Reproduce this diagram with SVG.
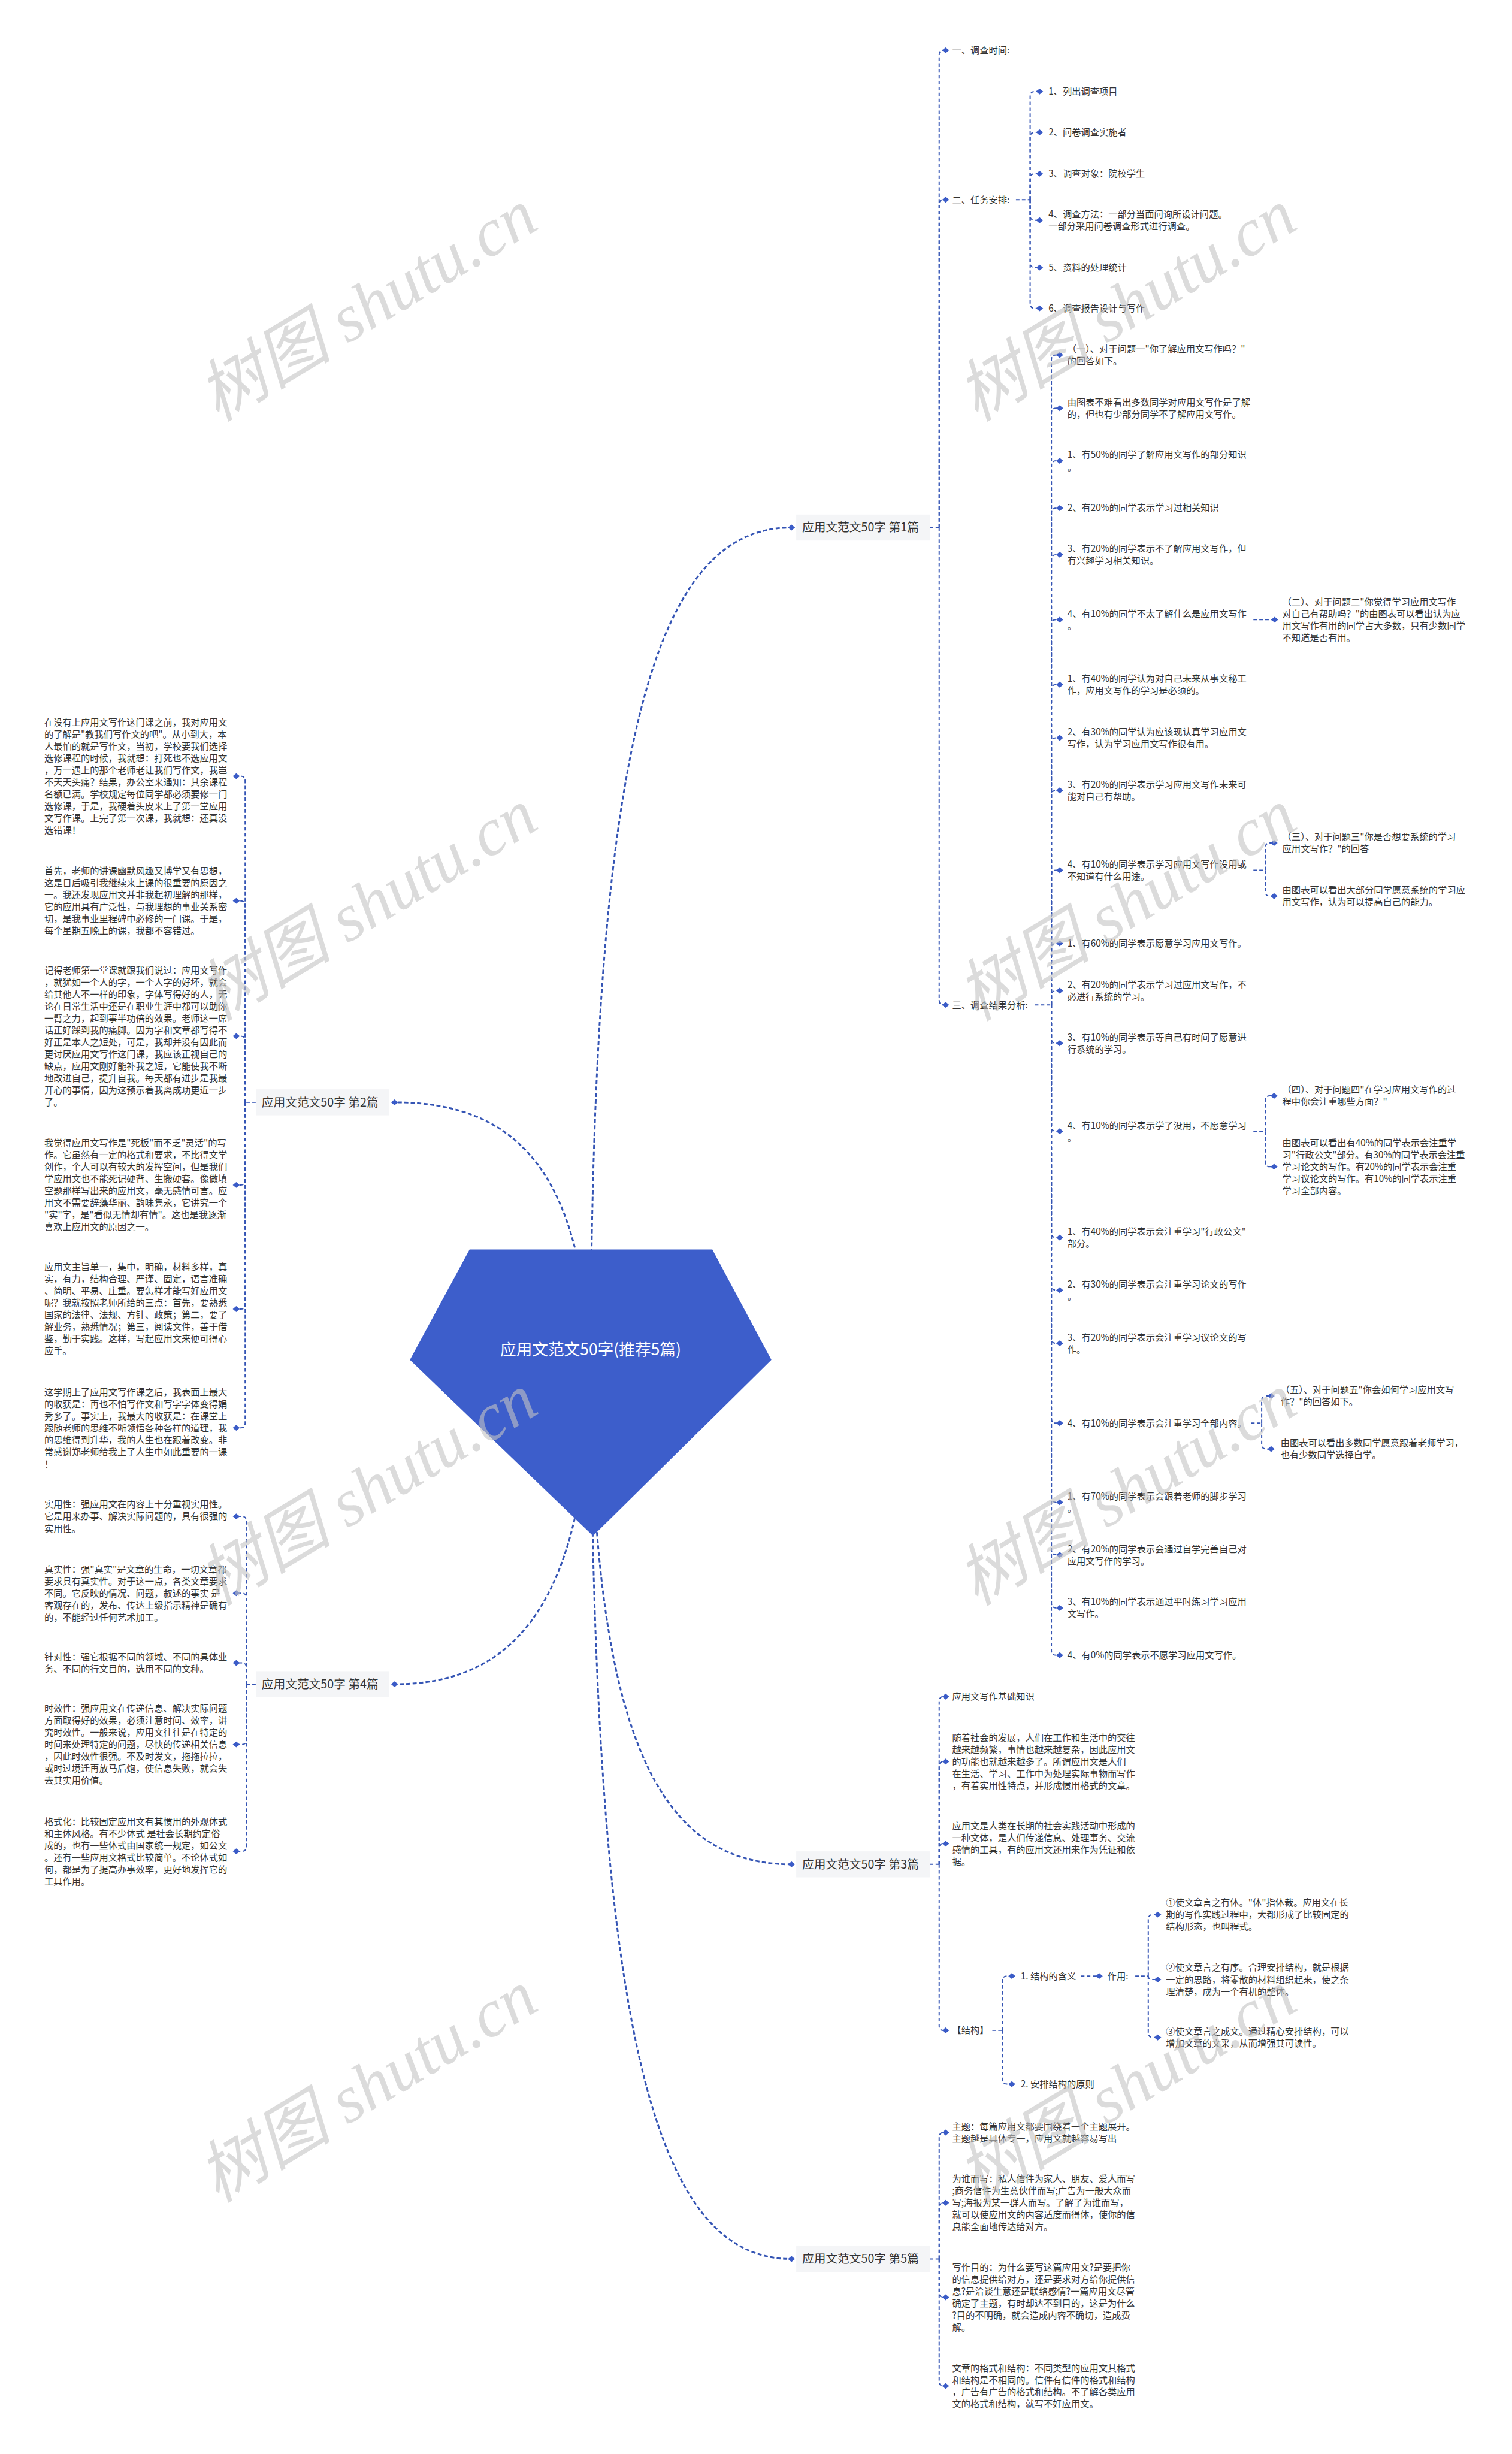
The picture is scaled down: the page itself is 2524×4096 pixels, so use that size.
<svg xmlns="http://www.w3.org/2000/svg" width="2524" height="4096" viewBox="0 0 2524 4096">
<style>
.t{font-family:"Noto Sans CJK SC","Liberation Sans",sans-serif;font-size:15.5px;fill:#333}
.lab{font-family:"Noto Sans CJK SC","Liberation Sans",sans-serif;font-size:20px;fill:#333}
.c{fill:none;stroke:#3454b4;stroke-width:2;stroke-dasharray:6 4}
.cm{fill:none;stroke:#3454b4;stroke-width:3;stroke-dasharray:7 4}
.box{fill:#f4f5f7}
.wm{font-family:"Liberation Serif","Noto Sans CJK SC",serif;font-style:italic;font-size:114px;fill:#c4c4c4;opacity:.6}
</style>
<defs>
<marker id="dm" viewBox="-7 -7 14 14" markerWidth="14" markerHeight="14" refX="0" refY="0" markerUnits="userSpaceOnUse" orient="auto">
<path d="M-6 0L0-5L6 0L0 5Z" fill="#3a5bc7"/>
</marker>
</defs>
<rect width="2524" height="4096" fill="#fff"/>
<g transform="scale(0.986)">
<g id="connectors">
<path class="cm" marker-end="url(#dm)" d="M1000 2330C1000 1250 1110 893 1340 893"/>
<path class="cm" marker-end="url(#dm)" d="M1000 2330C1005 2950 1120 3156 1340 3156"/>
<path class="cm" marker-end="url(#dm)" d="M1000 2330C1005 3450 1110 3824 1340 3824"/>
<path class="cm" marker-end="url(#dm)" d="M1000 2330C990 1990 880 1866 668 1866"/>
<path class="cm" marker-end="url(#dm)" d="M1000 2330C990 2700 880 2851 668 2851"/>
<g class="c-p1">
<path class="c" d="M1574 893H1590"/>
<path class="c" marker-end="url(#dm)" d="M1590 893V93Q1590 85 1597 85H1601"/>
<path class="c" marker-end="url(#dm)" d="M1590 893V346Q1590 338 1597 338H1601"/>
<path class="c" marker-end="url(#dm)" d="M1590 893V1693Q1590 1701 1597 1701H1601"/>
<path class="c" d="M1720 338H1744"/>
<path class="c" marker-end="url(#dm)" d="M1744 338V163Q1744 155 1752 155H1760"/>
<path class="c" marker-end="url(#dm)" d="M1744 338V232Q1744 224 1752 224H1760"/>
<path class="c" marker-end="url(#dm)" d="M1744 338V302Q1744 294 1752 294H1760"/>
<path class="c" marker-end="url(#dm)" d="M1744 338V365Q1744 373 1752 373H1760"/>
<path class="c" marker-end="url(#dm)" d="M1744 338V445Q1744 453 1752 453H1760"/>
<path class="c" marker-end="url(#dm)" d="M1744 338V514Q1744 522 1752 522H1760"/>
<path class="c" d="M1752 1701H1780"/>
<path class="c" marker-end="url(#dm)" d="M1780 1701V609Q1780 601 1788 601H1794"/>
<path class="c" marker-end="url(#dm)" d="M1780 1701V699Q1780 691 1788 691H1794"/>
<path class="c" marker-end="url(#dm)" d="M1780 1701V788Q1780 780 1788 780H1794"/>
<path class="c" marker-end="url(#dm)" d="M1780 1701V868Q1780 860 1788 860H1794"/>
<path class="c" marker-end="url(#dm)" d="M1780 1701V947Q1780 939 1788 939H1794"/>
<path class="c" marker-end="url(#dm)" d="M1780 1701V1057Q1780 1049 1788 1049H1794"/>
<path class="c" marker-end="url(#dm)" d="M1780 1701V1167Q1780 1159 1788 1159H1794"/>
<path class="c" marker-end="url(#dm)" d="M1780 1701V1257Q1780 1249 1788 1249H1794"/>
<path class="c" marker-end="url(#dm)" d="M1780 1701V1346Q1780 1338 1788 1338H1794"/>
<path class="c" marker-end="url(#dm)" d="M1780 1701V1481Q1780 1473 1788 1473H1794"/>
<path class="c" marker-end="url(#dm)" d="M1780 1701V1605Q1780 1597 1788 1597H1794"/>
<path class="c" marker-end="url(#dm)" d="M1780 1701V1685Q1780 1677 1788 1677H1794"/>
<path class="c" marker-end="url(#dm)" d="M1780 1701V1758Q1780 1766 1788 1766H1794"/>
<path class="c" marker-end="url(#dm)" d="M1780 1701V1907Q1780 1915 1788 1915H1794"/>
<path class="c" marker-end="url(#dm)" d="M1780 1701V2087Q1780 2095 1788 2095H1794"/>
<path class="c" marker-end="url(#dm)" d="M1780 1701V2176Q1780 2184 1788 2184H1794"/>
<path class="c" marker-end="url(#dm)" d="M1780 1701V2266Q1780 2274 1788 2274H1794"/>
<path class="c" marker-end="url(#dm)" d="M1780 1701V2401Q1780 2409 1788 2409H1794"/>
<path class="c" marker-end="url(#dm)" d="M1780 1701V2535Q1780 2543 1788 2543H1794"/>
<path class="c" marker-end="url(#dm)" d="M1780 1701V2624Q1780 2632 1788 2632H1794"/>
<path class="c" marker-end="url(#dm)" d="M1780 1701V2714Q1780 2722 1788 2722H1794"/>
<path class="c" marker-end="url(#dm)" d="M1780 1701V2794Q1780 2802 1788 2802H1794"/>
<path class="c" marker-end="url(#dm)" d="M2122 1049H2158"/>
<path class="c" d="M2122 1473H2142"/>
<path class="c" marker-end="url(#dm)" d="M2142 1473V1435Q2142 1427 2150 1427H2157"/>
<path class="c" marker-end="url(#dm)" d="M2142 1473V1509Q2142 1517 2150 1517H2157"/>
<path class="c" d="M2122 1915H2142"/>
<path class="c" marker-end="url(#dm)" d="M2142 1915V1863Q2142 1855 2150 1855H2157"/>
<path class="c" marker-end="url(#dm)" d="M2142 1915V1967Q2142 1975 2150 1975H2157"/>
<path class="c" d="M2118 2409H2136"/>
<path class="c" marker-end="url(#dm)" d="M2136 2409V2371Q2136 2363 2144 2363H2152"/>
<path class="c" marker-end="url(#dm)" d="M2136 2409V2445Q2136 2453 2144 2453H2152"/>
</g>
<g class="c-p3">
<path class="c" d="M1574 3156H1590"/>
<path class="c" marker-end="url(#dm)" d="M1590 3156V2880Q1590 2872 1597 2872H1601"/>
<path class="c" marker-end="url(#dm)" d="M1590 3156V2990Q1590 2982 1597 2982H1601"/>
<path class="c" marker-end="url(#dm)" d="M1590 3156V3129Q1590 3121 1597 3121H1601"/>
<path class="c" marker-end="url(#dm)" d="M1590 3156V3429Q1590 3437 1597 3437H1601"/>
<path class="c" d="M1680 3437H1697"/>
<path class="c" marker-end="url(#dm)" d="M1697 3437V3353Q1697 3345 1705 3345H1713"/>
<path class="c" marker-end="url(#dm)" d="M1697 3437V3520Q1697 3528 1705 3528H1713"/>
<path class="c" marker-end="url(#dm)" d="M1830 3345H1861"/>
<path class="c" d="M1922 3345H1944"/>
<path class="c" marker-end="url(#dm)" d="M1944 3345V3249Q1944 3241 1952 3241H1960"/>
<path class="c" marker-end="url(#dm)" d="M1944 3345Q1944 3351 1952 3351H1960"/>
<path class="c" marker-end="url(#dm)" d="M1944 3345V3441Q1944 3449 1952 3449H1960"/>
</g>
<g class="c-p5">
<path class="c" d="M1574 3824H1590"/>
<path class="c" marker-end="url(#dm)" d="M1590 3824V3618Q1590 3610 1597 3610H1601"/>
<path class="c" marker-end="url(#dm)" d="M1590 3824V3737Q1590 3729 1597 3729H1601"/>
<path class="c" marker-end="url(#dm)" d="M1590 3824V3881Q1590 3889 1597 3889H1601"/>
<path class="c" marker-end="url(#dm)" d="M1590 3824V4031Q1590 4039 1597 4039H1601"/>
</g>
<g class="c-p2">
<path class="c" d="M433 1866H415"/>
<path class="c" marker-end="url(#dm)" d="M415 1866V1322Q415 1314 408 1314H400"/>
<path class="c" marker-end="url(#dm)" d="M415 1866V1533Q415 1525 408 1525H400"/>
<path class="c" marker-end="url(#dm)" d="M415 1866V1762Q415 1754 408 1754H400"/>
<path class="c" marker-end="url(#dm)" d="M415 1866V1998Q415 2006 408 2006H400"/>
<path class="c" marker-end="url(#dm)" d="M415 1866V2208Q415 2216 408 2216H400"/>
<path class="c" marker-end="url(#dm)" d="M415 1866V2409Q415 2417 408 2417H400"/>
</g>
<g class="c-p4">
<path class="c" d="M433 2851H417"/>
<path class="c" marker-end="url(#dm)" d="M417 2851V2575Q417 2567 410 2567H400"/>
<path class="c" marker-end="url(#dm)" d="M417 2851V2705Q417 2697 410 2697H400"/>
<path class="c" marker-end="url(#dm)" d="M417 2851V2823Q417 2815 410 2815H400"/>
<path class="c" marker-end="url(#dm)" d="M417 2851V2945Q417 2953 410 2953H400"/>
<path class="c" marker-end="url(#dm)" d="M417 2851V3126Q417 3134 410 3134H400"/>
</g>
</g>

<g id="root">
<polygon points="795,2115 1206,2115 1306,2302 1004,2600 694,2302" fill="#3d5ecb"/>
<text x="1000" y="2294" text-anchor="middle" style="font-family:'Noto Sans CJK SC','Liberation Sans',sans-serif;font-size:27px;fill:#fff">应用文范文50字(推荐5篇)</text>
</g>

<g id="b1"><rect class="box" x="1348" y="871" width="226" height="44"/><text class="lab" x="1358" y="900">应用文范文50字 第1篇</text></g>
<g id="b2"><rect class="box" x="433" y="1844" width="226" height="44"/><text class="lab" x="443" y="1873">应用文范文50字 第2篇</text></g>
<g id="b3"><rect class="box" x="1348" y="3134" width="226" height="44"/><text class="lab" x="1358" y="3163">应用文范文50字 第3篇</text></g>
<g id="b4"><rect class="box" x="433" y="2829" width="226" height="44"/><text class="lab" x="443" y="2858">应用文范文50字 第4篇</text></g>
<g id="b5"><rect class="box" x="1348" y="3802" width="226" height="44"/><text class="lab" x="1358" y="3831">应用文范文50字 第5篇</text></g>

<g id="p1-nodes">
<g id="n1-1"><text class="t" x="1612" y="90.5">一、调查时间:</text></g>
<g id="n1-2"><text class="t" x="1612" y="343.5">二、任务安排:</text></g>
<g id="n1-3"><text class="t" x="1612" y="1706.5">三、调查结果分析:</text></g>
<g id="n1-2-1"><text class="t" x="1775" y="160.5">1、列出调查项目</text></g>
<g id="n1-2-2"><text class="t" x="1775" y="229.5">2、问卷调查实施者</text></g>
<g id="n1-2-3"><text class="t" x="1775" y="299.5">3、调查对象：院校学生</text></g>
<g id="n1-2-4"><text class="t" x="1775" y="368.35">4、调查方法：一部分当面问询所设计问题。<tspan x="1775" dy="20.3">一部分采用问卷调查形式进行调查。</tspan></text></g>
<g id="n1-2-5"><text class="t" x="1775" y="458.5">5、资料的处理统计</text></g>
<g id="n1-2-6"><text class="t" x="1775" y="527.5">6、调查报告设计与写作</text></g>

<g id="n1-3-1"><text class="t" x="1807" y="596.35">（一）、对于问题一"你了解应用文写作吗？"<tspan x="1807" dy="20.3">的回答如下。</tspan></text></g>
<g id="n1-3-2"><text class="t" x="1807" y="686.35">由图表不难看出多数同学对应用文写作是了解<tspan x="1807" dy="20.3">的，但也有少部分同学不了解应用文写作。</tspan></text></g>
<g id="n1-3-3"><text class="t" x="1807" y="775.35">1、有50%的同学了解应用文写作的部分知识<tspan x="1807" dy="20.3">。</tspan></text></g>
<g id="n1-3-4"><text class="t" x="1807" y="865.5">2、有20%的同学表示学习过相关知识</text></g>
<g id="n1-3-5"><text class="t" x="1807" y="934.35">3、有20%的同学表示不了解应用文写作，但<tspan x="1807" dy="20.3">有兴趣学习相关知识。</tspan></text></g>
<g id="n1-3-6"><text class="t" x="1807" y="1044.35">4、有10%的同学不太了解什么是应用文写作<tspan x="1807" dy="20.3">。</tspan></text></g>
<g id="n1-3-6-1"><text class="t" x="2171" y="1024.05">（二）、对于问题二"你觉得学习应用文写作<tspan x="2171" dy="20.3">对自己有帮助吗？"的由图表可以看出认为应</tspan><tspan x="2171" dy="20.3">用文写作有用的同学占大多数，只有少数同学</tspan><tspan x="2171" dy="20.3">不知道是否有用。</tspan></text></g>
<g id="n1-3-7"><text class="t" x="1807" y="1154.35">1、有40%的同学认为对自己未来从事文秘工<tspan x="1807" dy="20.3">作，应用文写作的学习是必须的。</tspan></text></g>
<g id="n1-3-8"><text class="t" x="1807" y="1244.35">2、有30%的同学认为应该现认真学习应用文<tspan x="1807" dy="20.3">写作，认为学习应用文写作很有用。</tspan></text></g>
<g id="n1-3-9"><text class="t" x="1807" y="1333.35">3、有20%的同学表示学习应用文写作未来可<tspan x="1807" dy="20.3">能对自己有帮助。</tspan></text></g>
<g id="n1-3-10"><text class="t" x="1807" y="1468.35">4、有10%的同学表示学习应用文写作没用或<tspan x="1807" dy="20.3">不知道有什么用途。</tspan></text></g>
<g id="n1-3-10-1"><text class="t" x="2171" y="1422.35">（三）、对于问题三"你是否想要系统的学习<tspan x="2171" dy="20.3">应用文写作？"的回答</tspan></text></g>
<g id="n1-3-10-2"><text class="t" x="2171" y="1512.35">由图表可以看出大部分同学愿意系统的学习应<tspan x="2171" dy="20.3">用文写作，认为可以提高自己的能力。</tspan></text></g>
<g id="n1-3-11"><text class="t" x="1807" y="1602.5">1、有60%的同学表示愿意学习应用文写作。</text></g>
<g id="n1-3-12"><text class="t" x="1807" y="1672.35">2、有20%的同学表示学习过应用文写作，不<tspan x="1807" dy="20.3">必进行系统的学习。</tspan></text></g>
<g id="n1-3-13"><text class="t" x="1807" y="1761.35">3、有10%的同学表示等自己有时间了愿意进<tspan x="1807" dy="20.3">行系统的学习。</tspan></text></g>
<g id="n1-3-14"><text class="t" x="1807" y="1910.35">4、有10%的同学表示学了没用，不愿意学习<tspan x="1807" dy="20.3">。</tspan></text></g>
<g id="n1-3-14-1"><text class="t" x="2171" y="1850.35">（四）、对于问题四"在学习应用文写作的过<tspan x="2171" dy="20.3">程中你会注重哪些方面？"</tspan></text></g>
<g id="n1-3-14-2"><text class="t" x="2171" y="1939.9">由图表可以看出有40%的同学表示会注重学<tspan x="2171" dy="20.3">习"行政公文"部分。有30%的同学表示会注重</tspan><tspan x="2171" dy="20.3">学习论文的写作。有20%的同学表示会注重</tspan><tspan x="2171" dy="20.3">学习议论文的写作。有10%的同学表示注重</tspan><tspan x="2171" dy="20.3">学习全部内容。</tspan></text></g>
<g id="n1-3-15"><text class="t" x="1807" y="2090.35">1、有40%的同学表示会注重学习"行政公文"<tspan x="1807" dy="20.3">部分。</tspan></text></g>
<g id="n1-3-16"><text class="t" x="1807" y="2179.35">2、有30%的同学表示会注重学习论文的写作<tspan x="1807" dy="20.3">。</tspan></text></g>
<g id="n1-3-17"><text class="t" x="1807" y="2269.35">3、有20%的同学表示会注重学习议论文的写<tspan x="1807" dy="20.3">作。</tspan></text></g>
<g id="n1-3-18"><text class="t" x="1807" y="2414.5">4、有10%的同学表示会注重学习全部内容。</text></g>
<g id="n1-3-18-1"><text class="t" x="2168" y="2358.35">（五）、对于问题五"你会如何学习应用文写<tspan x="2168" dy="20.3">作？"的回答如下。</tspan></text></g>
<g id="n1-3-18-2"><text class="t" x="2168" y="2448.35">由图表可以看出多数同学愿意跟着老师学习，<tspan x="2168" dy="20.3">也有少数同学选择自学。</tspan></text></g>
<g id="n1-3-19"><text class="t" x="1807" y="2538.35">1、有70%的同学表示会跟着老师的脚步学习<tspan x="1807" dy="20.3">。</tspan></text></g>
<g id="n1-3-20"><text class="t" x="1807" y="2627.35">2、有20%的同学表示会通过自学完善自己对<tspan x="1807" dy="20.3">应用文写作的学习。</tspan></text></g>
<g id="n1-3-21"><text class="t" x="1807" y="2717.35">3、有10%的同学表示通过平时练习学习应用<tspan x="1807" dy="20.3">文写作。</tspan></text></g>
<g id="n1-3-22"><text class="t" x="1807" y="2807.5">4、有0%的同学表示不愿学习应用文写作。</text></g>
</g>

<g id="p3-nodes">
<g id="n3-1"><text class="t" x="1612" y="2877.5">应用文写作基础知识</text></g>
<g id="n3-2"><text class="t" x="1612" y="2946.9">随着社会的发展，人们在工作和生活中的交往<tspan x="1612" dy="20.3">越来越频繁，事情也越来越复杂，因此应用文</tspan><tspan x="1612" dy="20.3">的功能也就越来越多了。所谓应用文是人们</tspan><tspan x="1612" dy="20.3">在生活、学习、工作中为处理实际事物而写作</tspan><tspan x="1612" dy="20.3">，有着实用性特点，并形成惯用格式的文章。</tspan></text></g>
<g id="n3-3"><text class="t" x="1612" y="3096.05">应用文是人类在长期的社会实践活动中形成的<tspan x="1612" dy="20.3">一种文体，是人们传递信息、处理事务、交流</tspan><tspan x="1612" dy="20.3">感情的工具，有的应用文还用来作为凭证和依</tspan><tspan x="1612" dy="20.3">据。</tspan></text></g>
<g id="n3-4"><text class="t" x="1612" y="3442.5">【结构】</text></g>
<g id="n3-4-1"><text class="t" x="1728" y="3350.5">1. 结构的含义</text></g>
<g id="n3-4-1-1"><text class="t" x="1875" y="3350.5">作用:</text></g>
<g id="n3-4-1-1-1"><text class="t" x="1974" y="3226.2">①使文章言之有体。"体"指体裁。应用文在长<tspan x="1974" dy="20.3">期的写作实践过程中，大都形成了比较固定的</tspan><tspan x="1974" dy="20.3">结构形态，也叫程式。</tspan></text></g>
<g id="n3-4-1-1-2"><text class="t" x="1974" y="3336.2">②使文章言之有序。合理安排结构，就是根据<tspan x="1974" dy="20.3">一定的思路，将零散的材料组织起来，使之条</tspan><tspan x="1974" dy="20.3">理清楚，成为一个有机的整体。</tspan></text></g>
<g id="n3-4-1-1-3"><text class="t" x="1974" y="3444.35">③使文章言之成文。通过精心安排结构，可以<tspan x="1974" dy="20.3">增加文章的文采，从而增强其可读性。</tspan></text></g>
<g id="n3-4-2"><text class="t" x="1728" y="3533.5">2. 安排结构的原则</text></g>
</g>

<g id="p5-nodes">
<g id="n5-1"><text class="t" x="1612" y="3605.35">主题：每篇应用文都要围绕着一个主题展开。<tspan x="1612" dy="20.3">主题越是具体专一，应用文就越容易写出</tspan></text></g>
<g id="n5-2"><text class="t" x="1612" y="3693.9">为谁而写：私人信件为家人、朋友、爱人而写<tspan x="1612" dy="20.3">;商务信件为生意伙伴而写;广告为一般大众而</tspan><tspan x="1612" dy="20.3">写;海报为某一群人而写。了解了为谁而写，</tspan><tspan x="1612" dy="20.3">就可以使应用文的内容适度而得体，使你的信</tspan><tspan x="1612" dy="20.3">息能全面地传达给对方。</tspan></text></g>
<g id="n5-3"><text class="t" x="1612" y="3843.75">写作目的：为什么要写这篇应用文?是要把你<tspan x="1612" dy="20.3">的信息提供给对方，还是要求对方给你提供信</tspan><tspan x="1612" dy="20.3">息?是洽谈生意还是联络感情?一篇应用文尽管</tspan><tspan x="1612" dy="20.3">确定了主题，有时却达不到目的，这是为什么</tspan><tspan x="1612" dy="20.3">?目的不明确，就会造成内容不确切，造成费</tspan><tspan x="1612" dy="20.3">解。</tspan></text></g>
<g id="n5-4"><text class="t" x="1612" y="4014.05">文章的格式和结构：不同类型的应用文其格式<tspan x="1612" dy="20.3">和结构是不相同的。信件有信件的格式和结构</tspan><tspan x="1612" dy="20.3">，广告有广告的格式和结构。不了解各类应用</tspan><tspan x="1612" dy="20.3">文的格式和结构，就写不好应用文。</tspan></text></g>
</g>

<g id="p2-nodes">
<g id="n2-1"><text class="t" x="75" y="1228.15">在没有上应用文写作这门课之前，我对应用文<tspan x="75" dy="20.3">的了解是"教我们写作文的吧"。从小到大，本</tspan><tspan x="75" dy="20.3">人最怕的就是写作文，当初，学校要我们选择</tspan><tspan x="75" dy="20.3">选修课程的时候，我就想：打死也不选应用文</tspan><tspan x="75" dy="20.3">，万一遇上的那个老师老让我们写作文，我岂</tspan><tspan x="75" dy="20.3">不天天头痛？结果，办公室来通知：其余课程</tspan><tspan x="75" dy="20.3">名额已满。学校规定每位同学都必须要修一门</tspan><tspan x="75" dy="20.3">选修课，于是，我硬着头皮来上了第一堂应用</tspan><tspan x="75" dy="20.3">文写作课。上完了第一次课，我就想：还真没</tspan><tspan x="75" dy="20.3">选错课！</tspan></text></g>
<g id="n2-2"><text class="t" x="75" y="1479.75">首先，老师的讲课幽默风趣又博学又有思想，<tspan x="75" dy="20.3">这是日后吸引我继续来上课的很重要的原因之</tspan><tspan x="75" dy="20.3">一。我还发现应用文并非我起初理解的那样，</tspan><tspan x="75" dy="20.3">它的应用具有广泛性，与我理想的事业关系密</tspan><tspan x="75" dy="20.3">切，是我事业里程碑中必修的一门课。于是，</tspan><tspan x="75" dy="20.3">每个星期五晚上的课，我都不容错过。</tspan></text></g>
<g id="n2-3"><text class="t" x="75" y="1647.85">记得老师第一堂课就跟我们说过：应用文写作<tspan x="75" dy="20.3">，就犹如一个人的字，一个人字的好坏，就会</tspan><tspan x="75" dy="20.3">给其他人不一样的印象，字体写得好的人，无</tspan><tspan x="75" dy="20.3">论在日常生活中还是在职业生涯中都可以助你</tspan><tspan x="75" dy="20.3">一臂之力，起到事半功倍的效果。老师这一席</tspan><tspan x="75" dy="20.3">话正好踩到我的痛脚。因为字和文章都写得不</tspan><tspan x="75" dy="20.3">好正是本人之短处，可是，我却并没有因此而</tspan><tspan x="75" dy="20.3">更讨厌应用文写作这门课，我应该正视自己的</tspan><tspan x="75" dy="20.3">缺点，应用文刚好能补我之短，它能使我不断</tspan><tspan x="75" dy="20.3">地改进自己，提升自我。每天都有进步是我最</tspan><tspan x="75" dy="20.3">开心的事情，因为这预示着我离成功更近一步</tspan><tspan x="75" dy="20.3">了。</tspan></text></g>
<g id="n2-4"><text class="t" x="75" y="1940.45">我觉得应用文写作是"死板"而不乏"灵活"的写<tspan x="75" dy="20.3">作。它虽然有一定的格式和要求，不比得文学</tspan><tspan x="75" dy="20.3">创作，个人可以有较大的发挥空间，但是我们</tspan><tspan x="75" dy="20.3">学应用文也不能死记硬背、生搬硬套。像做填</tspan><tspan x="75" dy="20.3">空题那样写出来的应用文，毫无感情可言。应</tspan><tspan x="75" dy="20.3">用文不需要辞藻华丽、韵味隽永，它讲究一个</tspan><tspan x="75" dy="20.3">"实"字，是"看似无情却有情"。这也是我逐渐</tspan><tspan x="75" dy="20.3">喜欢上应用文的原因之一。</tspan></text></g>
<g id="n2-5"><text class="t" x="75" y="2150.45">应用文主旨单一，集中，明确，材料多样，真<tspan x="75" dy="20.3">实，有力，结构合理、严谨、固定，语言准确</tspan><tspan x="75" dy="20.3">、简明、平易、庄重。要怎样才能写好应用文</tspan><tspan x="75" dy="20.3">呢？我就按照老师所给的三点：首先，要熟悉</tspan><tspan x="75" dy="20.3">国家的法律、法规、方针、政策；第二，要了</tspan><tspan x="75" dy="20.3">解业务，熟悉情况；第三，阅读文件，善于借</tspan><tspan x="75" dy="20.3">鉴，勤于实践。这样，写起应用文来便可得心</tspan><tspan x="75" dy="20.3">应手。</tspan></text></g>
<g id="n2-6"><text class="t" x="75" y="2361.6">这学期上了应用文写作课之后，我表面上最大<tspan x="75" dy="20.3">的收获是：再也不怕写作文和写字字体变得娟</tspan><tspan x="75" dy="20.3">秀多了。事实上，我最大的收获是：在课堂上</tspan><tspan x="75" dy="20.3">跟随老师的思维不断领悟各种各样的道理，我</tspan><tspan x="75" dy="20.3">的思维得到升华，我的人生也在跟着改变。非</tspan><tspan x="75" dy="20.3">常感谢郑老师给我上了人生中如此重要的一课</tspan><tspan x="75" dy="20.3">！</tspan></text></g>
</g>

<g id="p4-nodes">
<g id="n4-1"><text class="t" x="75" y="2552.2">实用性：强应用文在内容上十分重视实用性。<tspan x="75" dy="20.3">它是用来办事、解决实际问题的，具有很强的</tspan><tspan x="75" dy="20.3">实用性。</tspan></text></g>
<g id="n4-2"><text class="t" x="75" y="2661.9">真实性：强"真实"是文章的生命，一切文章都<tspan x="75" dy="20.3">要求具有真实性。对于这一点，各类文章要求</tspan><tspan x="75" dy="20.3">不同。它反映的情况、问题，叙述的事实 是</tspan><tspan x="75" dy="20.3">客观存在的，发布、传达上级指示精神是确有</tspan><tspan x="75" dy="20.3">的，不能经过任何艺术加工。</tspan></text></g>
<g id="n4-3"><text class="t" x="75" y="2810.35">针对性：强它根据不同的领域、不同的具体业<tspan x="75" dy="20.3">务、不同的行文目的，选用不同的文种。</tspan></text></g>
<g id="n4-4"><text class="t" x="75" y="2897.6">时效性：强应用文在传递信息、解决实际问题<tspan x="75" dy="20.3">方面取得好的效果，必须注意时间、效率，讲</tspan><tspan x="75" dy="20.3">究时效性。一般来说，应用文往往是在特定的</tspan><tspan x="75" dy="20.3">时间来处理特定的问题，尽快的传递相关信息</tspan><tspan x="75" dy="20.3">，因此时效性很强。不及时发文，拖拖拉拉，</tspan><tspan x="75" dy="20.3">或时过境迁再放马后炮，使信息失败，就会失</tspan><tspan x="75" dy="20.3">去其实用价值。</tspan></text></g>
<g id="n4-5"><text class="t" x="75" y="3088.75">格式化：比较固定应用文有其惯用的外观体式<tspan x="75" dy="20.3">和主体风格。有不少体式 是社会长期约定俗</tspan><tspan x="75" dy="20.3">成的，也有一些体式由国家统一规定，如公文</tspan><tspan x="75" dy="20.3">。还有一些应用文格式比较简单。不论体式如</tspan><tspan x="75" dy="20.3">何，都是为了提高办事效率，更好地发挥它的</tspan><tspan x="75" dy="20.3">工具作用。</tspan></text></g>
</g>

<g id="watermarks">
<text class="wm" text-anchor="middle" transform="translate(642 550) rotate(-31)">树图 shutu.cn</text>
<text class="wm" text-anchor="middle" transform="translate(1927 550) rotate(-31)">树图 shutu.cn</text>
<text class="wm" text-anchor="middle" transform="translate(642 1565) rotate(-31)">树图 shutu.cn</text>
<text class="wm" text-anchor="middle" transform="translate(1927 1565) rotate(-31)">树图 shutu.cn</text>
<text class="wm" text-anchor="middle" transform="translate(642 2555) rotate(-31)">树图 shutu.cn</text>
<text class="wm" text-anchor="middle" transform="translate(1927 2555) rotate(-31)">树图 shutu.cn</text>
<text class="wm" text-anchor="middle" transform="translate(642 3565) rotate(-31)">树图 shutu.cn</text>
<text class="wm" text-anchor="middle" transform="translate(1927 3565) rotate(-31)">树图 shutu.cn</text>
</g>
</g>
</svg>
